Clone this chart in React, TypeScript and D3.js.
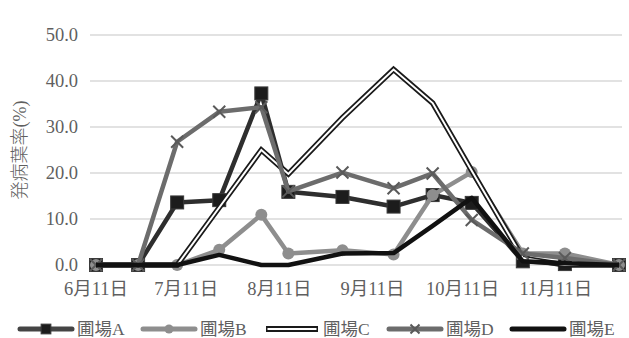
import React, { useRef, useEffect } from 'react';
import * as d3 from 'd3';

// sampling dates (date axis)
const sampleDates = [
  '2019-06-11', '2019-06-25', '2019-07-08', '2019-07-22', '2019-08-05', '2019-08-14',
  '2019-09-01', '2019-09-18', '2019-10-01', '2019-10-14', '2019-10-31', '2019-11-14', '2019-12-02',
];
const seriesNames = ['圃場A', '圃場B', '圃場C', '圃場D', '圃場E'];
const fieldA = [0, 0, 13.6, 14.1, 37.3, 15.9, 14.8, 12.7, 15.2, 13.5, 0.8, 0.2, 0];
const fieldB = [0, 0, 0, 3.3, 10.9, 2.5, 3.2, 2.3, 15.2, 20.2, 2.5, 2.5, 0];
const fieldC = [0, 0, 0, 12.5, 25, 19.8, 32, 42.5, 35.2, 20.5, 1.5, 0, 0];
const fieldD = [0, 0, 26.8, 33.3, 34.3, 16, 20.1, 16.7, 19.9, 9.8, 2.5, 1.5, 0];
const fieldE = [0, 0, 0, 2.2, 0, 0, 2.5, 2.6, 8.5, 14.6, 0.8, 0.4, 0];
const xTickDates = ['2019-06-11', '2019-07-11', '2019-08-11', '2019-09-11', '2019-10-11', '2019-11-11'];
const yTicks = [0, 10, 20, 30, 40, 50];

const FONT = '"Liberation Serif", "Noto Sans CJK JP", serif';
const TEXT = '#5f5f5f';

type Style = { color: string; width: number; marker: 'square' | 'circle' | 'x' | 'none'; double?: boolean };
const styles: Style[] = [
  { color: '#2e2e2e', width: 4.5, marker: 'square' },
  { color: '#8e8e8e', width: 4.5, marker: 'circle' },
  { color: '#1a1a1a', width: 5.5, marker: 'none', double: true },
  { color: '#6c6c6c', width: 4.5, marker: 'x' },
  { color: '#111111', width: 4.5, marker: 'none' },
];

const App = () => {
  const svgRef = useRef<SVGSVGElement>(null);

  useEffect(() => {
    const svg = d3.select(svgRef.current);
    svg.selectAll('*').remove();

    const parse = d3.timeParse('%Y-%m-%d');
    const dates = sampleDates.map((d) => parse(d) as Date);
    const allSeries = [fieldA, fieldB, fieldC, fieldD, fieldE];

    const x = d3.scaleTime()
      .domain([parse('2019-06-09') as Date, parse('2019-12-03') as Date])
      .range([90, 622]);
    const y = d3.scaleLinear().domain([0, 50]).range([265, 35]);

    // gridlines
    svg.append('g')
      .selectAll('line')
      .data(yTicks)
      .enter()
      .append('line')
      .attr('x1', 90)
      .attr('x2', 622)
      .attr('y1', (d) => y(d))
      .attr('y2', (d) => y(d))
      .attr('stroke', '#d9d9d9')
      .attr('stroke-width', 1.5);

    // y tick labels
    svg.append('g')
      .selectAll('text')
      .data(yTicks)
      .enter()
      .append('text')
      .attr('x', 78)
      .attr('y', (d) => y(d))
      .attr('dy', '0.35em')
      .attr('text-anchor', 'end')
      .style('font-family', FONT)
      .style('font-size', '18.5px')
      .attr('fill', TEXT)
      .text((d) => d.toFixed(1));

    // x tick labels
    svg.append('g')
      .selectAll('text')
      .data(xTickDates.map((d) => parse(d) as Date))
      .enter()
      .append('text')
      .attr('x', (d) => x(d))
      .attr('y', 295)
      .attr('text-anchor', 'middle')
      .style('font-family', FONT)
      .style('font-size', '18.5px')
      .attr('fill', TEXT)
      .text((d) => `${d.getMonth() + 1}月${d.getDate()}日`);

    // y axis title
    svg.append('text')
      .attr('transform', 'translate(26,150) rotate(-90)')
      .attr('text-anchor', 'middle')
      .style('font-family', FONT)
      .style('font-size', '18px')
      .style('font-weight', 300)
      .attr('fill', TEXT)
      .text('発病葉率(%)');

    const line = d3.line<number>()
      .x((_, i) => x(dates[i]))
      .y((d) => y(d));

    const drawMarker = (g: any, kind: string, cx: number, cy: number, color: string, s = 1) => {
      if (kind === 'square') {
        g.append('rect')
          .attr('x', cx - 6.5 * s).attr('y', cy - 6.5 * s)
          .attr('width', 13 * s).attr('height', 13 * s)
          .attr('fill', '#1c1c1c').attr('stroke', '#3a3a3a').attr('stroke-width', 1);
      } else if (kind === 'circle') {
        g.append('circle')
          .attr('cx', cx).attr('cy', cy).attr('r', 6 * s)
          .attr('fill', color);
      } else if (kind === 'x') {
        const r = 6 * s;
        g.append('path')
          .attr('d', `M${cx - r},${cy - r}L${cx + r},${cy + r}M${cx - r},${cy + r}L${cx + r},${cy - r}`)
          .attr('stroke', '#5a5a5a').attr('stroke-width', 2);
      }
    };

    allSeries.forEach((vals, si) => {
      const st = styles[si];
      const g = svg.append('g');
      if (st.double) {
        g.append('path').datum(vals).attr('d', line)
          .attr('fill', 'none').attr('stroke', st.color).attr('stroke-width', st.width)
          .attr('stroke-linejoin', 'miter');
        g.append('path').datum(vals).attr('d', line)
          .attr('fill', 'none').attr('stroke', '#fff').attr('stroke-width', 2)
          .attr('stroke-linejoin', 'miter');
      } else {
        g.append('path').datum(vals).attr('d', line)
          .attr('fill', 'none').attr('stroke', st.color).attr('stroke-width', st.width)
          .attr('stroke-linejoin', 'round');
      }
      vals.forEach((v, i) => drawMarker(g, st.marker, x(dates[i]), y(v), st.color));
    });

    // legend
    const legend = svg.append('g');
    seriesNames.forEach((name, i) => {
      const st = styles[i];
      const lx = 20 + i * 123;
      const ly = 329;
      const g = legend.append('g');
      if (st.double) {
        g.append('line').attr('x1', lx).attr('x2', lx + 52).attr('y1', ly).attr('y2', ly)
          .attr('stroke', st.color).attr('stroke-width', 6);
        g.append('line').attr('x1', lx + 1.5).attr('x2', lx + 50.5).attr('y1', ly).attr('y2', ly)
          .attr('stroke', '#fff').attr('stroke-width', 2);
      } else {
        g.append('line').attr('x1', lx).attr('x2', lx + 52).attr('y1', ly).attr('y2', ly)
          .attr('stroke', i === 0 ? '#444' : st.color).attr('stroke-width', 5)
          .attr('stroke-linecap', 'round');
      }
      drawMarker(g, st.marker, lx + 26, ly, st.color, 0.75);
      g.append('text')
        .attr('x', lx + 57)
        .attr('y', ly)
        .attr('dy', '0.35em')
        .style('font-family', FONT)
        .style('font-size', '17.5px')
        .attr('fill', TEXT)
        .text(name);
    });
  }, []);

  return <svg ref={svgRef} width={629} height={338} style={{ position: 'absolute', left: 0, top: 0, background: '#fff' }}></svg>;
};

export default App;
